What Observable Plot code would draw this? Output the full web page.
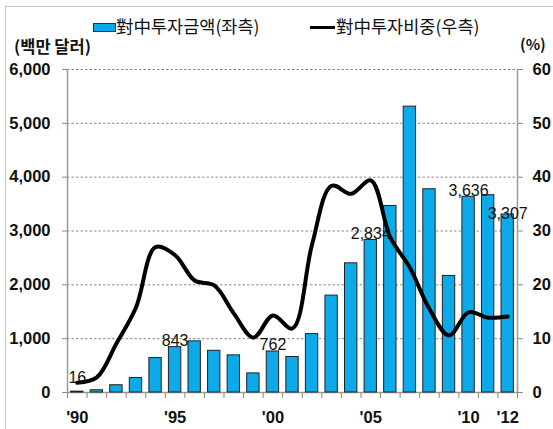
<!DOCTYPE html>
<html><head><meta charset="utf-8">
<script src="https://cdn.jsdelivr.net/npm/d3@7"></script>
<script src="https://cdn.jsdelivr.net/npm/@observablehq/plot@0.6"></script>
<style>
html,body{margin:0;padding:0;background:#fff;}
#wrap{position:relative;width:553px;height:429px;overflow:hidden;font-family:"Noto Sans CJK KR","Noto Sans",sans-serif;}
#frame{position:absolute;left:5px;top:6px;width:600px;height:500px;border-left:1.5px solid #c4c4c4;border-top:1.5px solid #c4c4c4;}
.lg{position:absolute;font-size:17.5px;color:#111;white-space:nowrap;line-height:1;}
#sw1{position:absolute;left:93px;top:23px;width:21px;height:7px;background:#0CAAE8;border:1px solid #333;}
#sw2{position:absolute;left:310px;top:25.5px;width:25px;height:3.5px;background:#000;}
svg{position:absolute;left:0;top:0;}
</style></head>
<body><div id="wrap">
<div id="frame"></div>
<div id="sw1"></div><div class="lg" style="left:116px;top:17px;">對中투자금액(좌측)</div>
<div id="sw2"></div><div class="lg" style="left:336px;top:17px;">對中투자비중(우측)</div>
<div class="lg" style="left:14px;top:38px;font-weight:bold;font-size:16.5px;">(백만 달러)</div>
<div class="lg" style="left:520px;top:36px;font-weight:bold;font-size:15px;">(%)</div>
</div>
<script>
const years = [1990,1991,1992,1993,1994,1995,1996,1997,1998,1999,2000,2001,2002,2003,2004,2005,2006,2007,2008,2009,2010,2011,2012];
const amounts = [16,42,135,270,640,843,950,775,690,355,762,660,1085,1800,2400,2834,3465,5310,3775,2165,3636,3665,3307];
const shares = [1.8,2.8,9.1,15.8,27.0,25.5,20.8,19.9,14.7,10.2,14.3,11.9,27.5,38.4,36.9,39.4,28.8,23.2,15.5,10.6,14.9,13.9,14.1];
const leftTicks = [0,1000,2000,3000,4000,5000,6000];
const rightTicks = [0,10,20,30,40,50,60];
const xLabelYears = [1990,1995,2000,2005,2010,2012];
const labeledYears = [1995,2000,2005,2010];
const labeledYearsLow = [1990];
const labeledYearsHigh = [2012];

const ratio = 6000/60;
const data = years.map((y,i)=>({year:y, amount:amounts[i], share:shares[i], shareScaled:shares[i]*ratio}));
const bounds = years.map(y=>y-0.5).concat([years[years.length-1]+0.5]);
const fmt = d3.format(",");
const numFont = "'Liberation Sans', Arial, sans-serif";

const chart = Plot.plot({
  width:553, height:429,
  marginLeft:67, marginRight:36, marginTop:69, marginBottom:37,
  style:{background:"transparent", fontFamily:numFont, color:"#111"},
  x:{type:"linear", domain:[years[0]-0.5, years[years.length-1]+0.5]},
  y:{domain:[0,6000]},
  marks:[
    Plot.gridY(leftTicks.filter(d=>d>0), {stroke:"#8a8a8a", strokeOpacity:1, strokeDasharray:"2.5,2", strokeWidth:1}),
    Plot.ruleX([years[0]-0.5, years[years.length-1]+0.5], {stroke:"#9a9a9a", strokeWidth:1.5}),
    Plot.ruleY([0], {stroke:"#9a9a9a", strokeWidth:1.5}),
    Plot.rectY(data, {x1:d=>d.year-0.5, x2:d=>d.year+0.5, y:"amount", insetLeft:3.6, insetRight:3.6, fill:"#0CAAE8", stroke:"#222", strokeWidth:1}),
    Plot.line(data, {x:"year", y:"shareScaled", curve:"catmull-rom", stroke:"#000", strokeWidth:4, strokeLinejoin:"round", strokeLinecap:"round"}),
    Plot.text(data.filter(d=>labeledYears.includes(d.year)), {x:"year", y:"amount", text:d=>fmt(d.amount), lineAnchor:"bottom", dy:-1, fontSize:16, fill:"#111", fontFamily:numFont}),
    Plot.text(data.filter(d=>labeledYearsLow.includes(d.year)), {x:"year", y:"amount", text:d=>fmt(d.amount), lineAnchor:"bottom", dy:-9, fontSize:16, fill:"#111", fontFamily:numFont}),
    Plot.text(data.filter(d=>labeledYearsHigh.includes(d.year)), {x:"year", y:"amount", text:d=>fmt(d.amount), lineAnchor:"bottom", dy:5, fontSize:16, fill:"#111", fontFamily:numFont}),
    Plot.axisY({ticks:leftTicks, tickFormat:fmt, tickSize:5, tickPadding:12, stroke:"#8a8a8a", fontSize:16.5, fontWeight:"bold", label:null}),
    Plot.axisY({anchor:"right", ticks:rightTicks.map(d=>d*ratio), tickFormat:d=>String(d/ratio), tickSize:5, tickPadding:10, stroke:"#8a8a8a", fontSize:16.5, fontWeight:"bold", label:null}),
    Plot.axisX({ticks:bounds, tickSize:6, tickFormat:()=>"", stroke:"#8a8a8a", label:null}),
    Plot.axisX({ticks:xLabelYears, tickSize:0, tickPadding:19, tickFormat:d=>"'"+String(d).slice(2), fontSize:16.5, fontWeight:"bold", label:null})
  ]
});
document.getElementById("wrap").appendChild(chart);
</script>
</body></html>
